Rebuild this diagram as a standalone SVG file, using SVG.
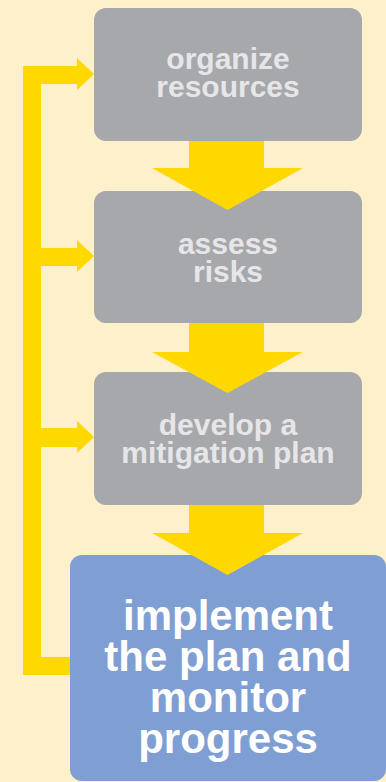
<svg xmlns="http://www.w3.org/2000/svg" width="386" height="782" viewBox="0 0 386 782">
<style>
.bg{fill:#fef0ca}
.gray{fill:#a7a8ab}
.blue{fill:#7f9ed3}
.yel{fill:#ffd800}
.t{font-family:"Liberation Sans",Arial,sans-serif;font-weight:bold;text-anchor:middle}
.tg{fill:#e6e6e9;font-size:30px}
.tw{fill:#ffffff;font-size:42px}
</style>
<rect class="bg" x="0" y="0" width="386" height="782"/>
<g id="organize">
  <rect class="gray" x="94" y="8" width="268" height="133" rx="12"/>
  <text class="t tg" x="228" y="69">organize</text>
  <text class="t tg" x="228" y="97">resources</text>
</g>
<g id="assess">
  <rect class="gray" x="94" y="191" width="268" height="132" rx="12"/>
  <text class="t tg" x="228" y="254">assess</text>
  <text class="t tg" x="228" y="282">risks</text>
</g>
<g id="develop">
  <rect class="gray" x="94" y="372" width="268" height="133" rx="12"/>
  <text class="t tg" x="228" y="435">develop a</text>
  <text class="t tg" x="228" y="463">mitigation plan</text>
</g>
<g id="implement">
  <rect class="blue" x="70" y="555" width="316" height="226" rx="12"/>
  <text class="t tw" x="228" y="630">implement</text>
  <text class="t tw" x="228" y="671">the plan and</text>
  <text class="t tw" x="228" y="712">monitor</text>
  <text class="t tw" x="228" y="753">progress</text>
</g>
<g id="connectors">
  <path class="yel" d="M23,66 H77 V58 L94,74 L77,90 V84 H41 V657 H70 V675 H23 Z"/>
  <path class="yel" d="M41,248 H77 V240 L94,256 L77,272 V266 H41 Z"/>
  <path class="yel" d="M41,428 H77 V421 L94,437 L77,453 V447 H41 Z"/>
  <path class="yel" d="M189,141 H264 V168 H303 L227.5,210 L152,168 H189 Z"/>
  <path class="yel" d="M189,323 H264 V352 H303 L227.5,393 L152,352 H189 Z"/>
  <path class="yel" d="M189,505 H264 V533 H303 L227.5,575 L152,533 H189 Z"/>
</g>
</svg>
